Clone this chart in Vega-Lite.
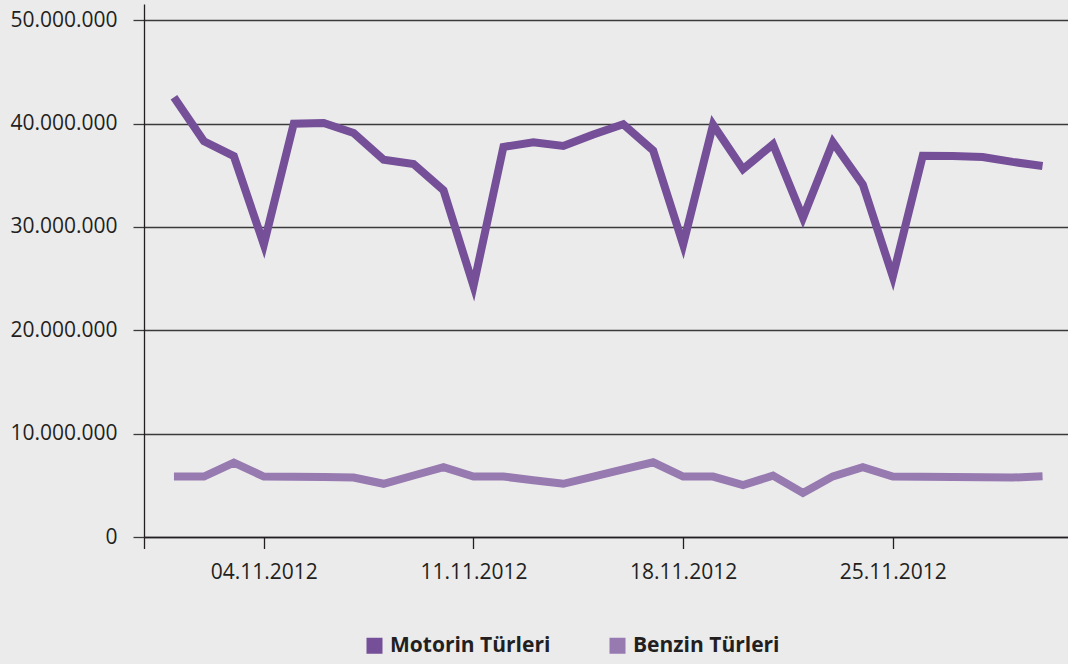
{
  "$schema": "https://vega.github.io/schema/vega-lite/v6.json",
  "width": 924,
  "height": 533,
  "autosize": {"type": "none"},
  "padding": {"left": 144, "top": 4, "right": 0, "bottom": 127},
  "background": "#ebebec",
  "config": {
    "view": {"stroke": null},
    "locale": {"number": {"decimal": ",", "thousands": ".", "grouping": [3], "currency": ["", ""]}},
    "font": "Open Sans"
  },
  "data": {
    "values": [
      {"date": "2012-11-01", "series": "Motorin Türleri", "value": 42550000},
      {"date": "2012-11-02", "series": "Motorin Türleri", "value": 38300000},
      {"date": "2012-11-03", "series": "Motorin Türleri", "value": 36850000},
      {"date": "2012-11-04", "series": "Motorin Türleri", "value": 28300000},
      {"date": "2012-11-05", "series": "Motorin Türleri", "value": 40000000},
      {"date": "2012-11-06", "series": "Motorin Türleri", "value": 40070000},
      {"date": "2012-11-07", "series": "Motorin Türleri", "value": 39100000},
      {"date": "2012-11-08", "series": "Motorin Türleri", "value": 36500000},
      {"date": "2012-11-09", "series": "Motorin Türleri", "value": 36100000},
      {"date": "2012-11-10", "series": "Motorin Türleri", "value": 33550000},
      {"date": "2012-11-11", "series": "Motorin Türleri", "value": 24300000},
      {"date": "2012-11-12", "series": "Motorin Türleri", "value": 37750000},
      {"date": "2012-11-13", "series": "Motorin Türleri", "value": 38200000},
      {"date": "2012-11-14", "series": "Motorin Türleri", "value": 37850000},
      {"date": "2012-11-15", "series": "Motorin Türleri", "value": 38950000},
      {"date": "2012-11-16", "series": "Motorin Türleri", "value": 39950000},
      {"date": "2012-11-17", "series": "Motorin Türleri", "value": 37400000},
      {"date": "2012-11-18", "series": "Motorin Türleri", "value": 28300000},
      {"date": "2012-11-19", "series": "Motorin Türleri", "value": 39900000},
      {"date": "2012-11-20", "series": "Motorin Türleri", "value": 35600000},
      {"date": "2012-11-21", "series": "Motorin Türleri", "value": 38000000},
      {"date": "2012-11-22", "series": "Motorin Türleri", "value": 30900000},
      {"date": "2012-11-23", "series": "Motorin Türleri", "value": 38200000},
      {"date": "2012-11-24", "series": "Motorin Türleri", "value": 34100000},
      {"date": "2012-11-25", "series": "Motorin Türleri", "value": 25200000},
      {"date": "2012-11-26", "series": "Motorin Türleri", "value": 36900000},
      {"date": "2012-11-27", "series": "Motorin Türleri", "value": 36880000},
      {"date": "2012-11-28", "series": "Motorin Türleri", "value": 36780000},
      {"date": "2012-11-29", "series": "Motorin Türleri", "value": 36300000},
      {"date": "2012-11-30", "series": "Motorin Türleri", "value": 35900000},
      {"date": "2012-11-01", "series": "Benzin Türleri", "value": 5850000},
      {"date": "2012-11-02", "series": "Benzin Türleri", "value": 5850000},
      {"date": "2012-11-03", "series": "Benzin Türleri", "value": 7190000},
      {"date": "2012-11-04", "series": "Benzin Türleri", "value": 5850000},
      {"date": "2012-11-05", "series": "Benzin Türleri", "value": 5830000},
      {"date": "2012-11-06", "series": "Benzin Türleri", "value": 5800000},
      {"date": "2012-11-07", "series": "Benzin Türleri", "value": 5750000},
      {"date": "2012-11-08", "series": "Benzin Türleri", "value": 5150000},
      {"date": "2012-11-09", "series": "Benzin Türleri", "value": 5950000},
      {"date": "2012-11-10", "series": "Benzin Türleri", "value": 6750000},
      {"date": "2012-11-11", "series": "Benzin Türleri", "value": 5850000},
      {"date": "2012-11-12", "series": "Benzin Türleri", "value": 5850000},
      {"date": "2012-11-13", "series": "Benzin Türleri", "value": 5500000},
      {"date": "2012-11-14", "series": "Benzin Türleri", "value": 5150000},
      {"date": "2012-11-15", "series": "Benzin Türleri", "value": 5850000},
      {"date": "2012-11-16", "series": "Benzin Türleri", "value": 6550000},
      {"date": "2012-11-17", "series": "Benzin Türleri", "value": 7230000},
      {"date": "2012-11-18", "series": "Benzin Türleri", "value": 5850000},
      {"date": "2012-11-19", "series": "Benzin Türleri", "value": 5850000},
      {"date": "2012-11-20", "series": "Benzin Türleri", "value": 5020000},
      {"date": "2012-11-21", "series": "Benzin Türleri", "value": 5940000},
      {"date": "2012-11-22", "series": "Benzin Türleri", "value": 4260000},
      {"date": "2012-11-23", "series": "Benzin Türleri", "value": 5870000},
      {"date": "2012-11-24", "series": "Benzin Türleri", "value": 6750000},
      {"date": "2012-11-25", "series": "Benzin Türleri", "value": 5850000},
      {"date": "2012-11-26", "series": "Benzin Türleri", "value": 5830000},
      {"date": "2012-11-27", "series": "Benzin Türleri", "value": 5800000},
      {"date": "2012-11-28", "series": "Benzin Türleri", "value": 5780000},
      {"date": "2012-11-29", "series": "Benzin Türleri", "value": 5750000},
      {"date": "2012-11-30", "series": "Benzin Türleri", "value": 5870000}
    ]
  },
  "mark": {"type": "line", "strokeWidth": 8, "strokeMiterLimit": 10, "strokeJoin": "miter", "strokeCap": "butt"},
  "encoding": {
    "x": {
      "field": "date",
      "type": "temporal",
      "scale": {
        "type": "utc",
        "domain": [
          {"year": 2012, "month": 10, "date": 31, "utc": true},
          {"year": 2012, "month": 11, "date": 30, "hours": 20, "minutes": 24, "utc": true}
        ]
      },
      "axis": {
        "title": null,
        "values": [
          {"year": 2012, "month": 10, "date": 31, "utc": true},
          {"year": 2012, "month": 11, "date": 4, "utc": true},
          {"year": 2012, "month": 11, "date": 11, "utc": true},
          {"year": 2012, "month": 11, "date": 18, "utc": true},
          {"year": 2012, "month": 11, "date": 25, "utc": true}
        ],
        "format": "%d.%m.%Y",
        "labelExpr": "utcmonth(datum.value) == 9 ? '' : datum.label",
        "grid": false,
        "domainColor": "#231f20",
        "domainWidth": 1.3,
        "tickColor": "#231f20",
        "tickWidth": 1.3,
        "tickSize": 11.5,
        "labelFont": "Open Sans",
        "labelFontSize": 21,
        "labelColor": "#231f20",
        "labelPadding": 13,
        "labelFlush": false,
        "labelOverlap": false
      }
    },
    "y": {
      "field": "value",
      "type": "quantitative",
      "scale": {"domain": [0, 51580000], "nice": false, "zero": true},
      "axis": {
        "title": null,
        "values": [0, 10000000, 20000000, 30000000, 40000000, 50000000],
        "format": ",d",
        "grid": true,
        "gridColor": "#3a3a3a",
        "gridWidth": 1.3,
        "domainColor": "#231f20",
        "domainWidth": 1.3,
        "tickColor": "#3a3a3a",
        "tickWidth": 1.3,
        "tickSize": 11,
        "labelFont": "Open Sans",
        "labelFontSize": 21,
        "labelColor": "#231f20",
        "labelPadding": 16,
        "labelOverlap": false
      }
    },
    "color": {
      "field": "series",
      "type": "nominal",
      "scale": {"domain": ["Motorin Türleri", "Benzin Türleri"], "range": ["#754f98", "#977ab0"]},
      "legend": {
        "title": null,
        "orient": "none",
        "legendX": 220,
        "legendY": 631,
        "direction": "horizontal",
        "padding": 0,
        "symbolType": "square",
        "symbolSize": 256,
        "symbolStrokeWidth": 0,
        "labelFont": "Open Sans",
        "labelFontWeight": "bold",
        "labelFontSize": 21,
        "labelColor": "#231f20",
        "labelOffset": 5,
        "labelLimit": 400,
        "columnPadding": 56,
        "encode": {
          "symbols": {"update": {"fill": {"scale": "color", "field": "value"}, "strokeWidth": {"value": 0}}}
        }
      }
    }
  }
}
